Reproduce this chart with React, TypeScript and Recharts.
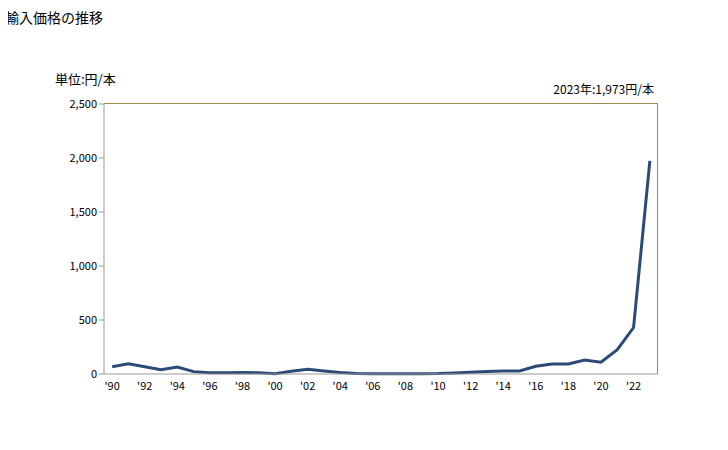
import { LineChart, Line, XAxis, YAxis } from "recharts";

const years = [
  1990, 1991, 1992, 1993, 1994, 1995, 1996, 1997, 1998, 1999, 2000, 2001,
  2002, 2003, 2004, 2005, 2006, 2007, 2008, 2009, 2010, 2011, 2012, 2013,
  2014, 2015, 2016, 2017, 2018, 2019, 2020, 2021, 2022, 2023,
];
const prices = [
  68, 95, 68, 40, 65, 22, 12, 12, 14, 12, 3, 25,
  45, 28, 14, 5, 2, 3, 3, 3, 4, 9, 16, 24,
  27, 28, 72, 92, 92, 130, 110, 225, 430, 1973,
];
const yTicks = [0, 500, 1000, 1500, 2000, 2500];

const data = years.map((y, i) => ({ year: y, price: prices[i] }));

const font = "'MS PGothic', 'Noto Sans CJK JP', sans-serif";

export default function App() {
  return (
    <div style={{ position: "relative", width: 712, height: 434, fontFamily: font, color: "#000" }}>
      <div style={{ position: "absolute", left: -3, top: -1, fontSize: 14 }}>輸入価格の推移</div>
      <div style={{ position: "absolute", left: 47, top: 61, fontSize: 13 }}>単位:円/本</div>
      <div style={{ position: "absolute", right: 66, top: 72, fontSize: 12 }}>2023年:1,973円/本</div>
      {/* top / right frame of the plot area */}
      <div
        style={{
          position: "absolute",
          left: 96,
          top: 95,
          width: 554,
          height: 271,
          borderTop: "1px solid #9b8e4e",
          borderRight: "1px solid #9b8e4e",
          boxSizing: "border-box",
          pointerEvents: "none",
        }}
      />
      <LineChart
        width={712}
        height={434}
        data={data}
        margin={{ top: 96, right: 62, bottom: 38, left: 36 }}
      >
        <XAxis
          dataKey="year"
          scale="band"
          interval={1}
          tickLine={false}
          axisLine={{ stroke: "#999" }}
          tick={{ fontSize: 11, fill: "#000", fontFamily: font }}
          tickFormatter={(v: number) => "'" + String(v).slice(2)}
          height={30}
        />
        <YAxis
          domain={[0, 2500]}
          ticks={yTicks}
          tickSize={5}
          tickLine={{ stroke: "#999" }}
          axisLine={{ stroke: "#999" }}
          tick={{ fontSize: 11, fill: "#000", fontFamily: font }}
          tickFormatter={(v: number) => v.toLocaleString("en-US")}
          width={60}
        />
        <Line
          dataKey="price"
          stroke="#2c4a78"
          strokeWidth={3}
          dot={false}
          isAnimationActive={false}
        />
      </LineChart>
    </div>
  );
}
